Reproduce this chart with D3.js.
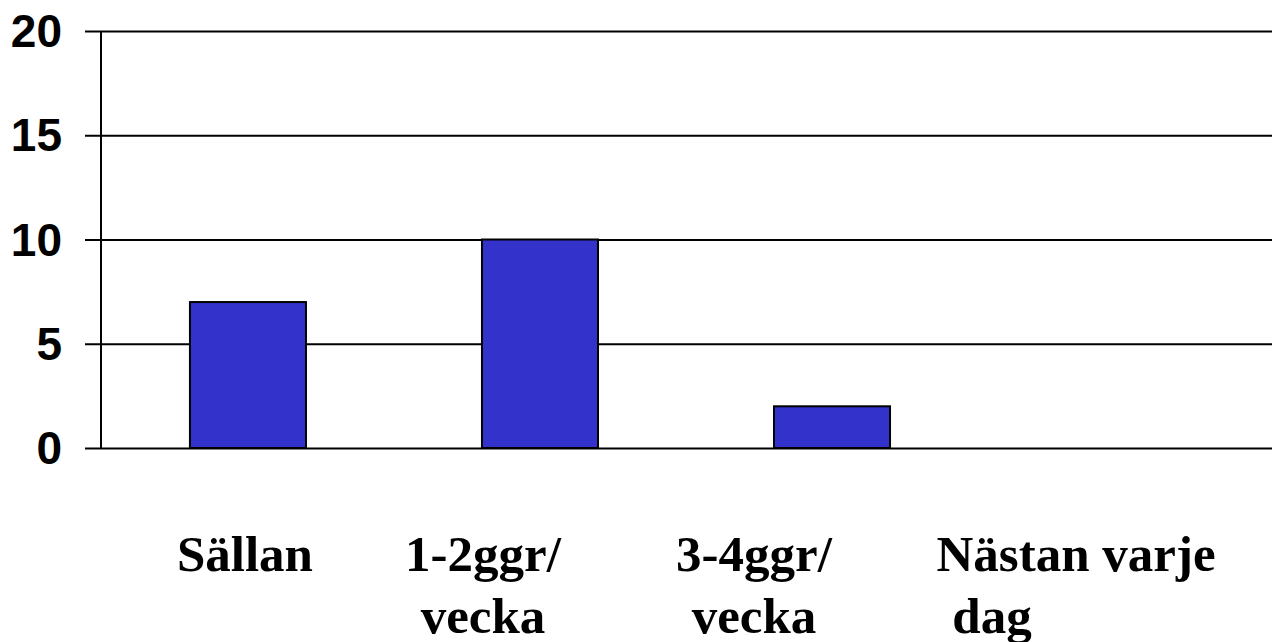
<!DOCTYPE html>
<html>
<head>
<meta charset="utf-8">
<script src="https://cdn.jsdelivr.net/npm/d3@7"></script>
<style>
  body { margin: 0; background: #fff; }
  svg { display: block; }
</style>
</head>
<body>
<div id="chart"></div>
<script>
// data
var categories = ["Sällan", "1-2ggr/ vecka", "3-4ggr/ vecka", "Nästan varje dag"];
var values = [7, 10, 2, 0];
var yTicks = [0, 5, 10, 15, 20];
// category labels as they wrap in the picture
var labelLines = [["Sällan"], ["1-2ggr/", "vecka"], ["3-4ggr/", "vecka"], ["Nästan varje", "dag"]];

var width = 1277, height = 642;
var plotLeft = 100, plotRight = 1272, plotTop = 31, plotBottom = 448;

var svg = d3.select("#chart").append("svg")
    .attr("width", width).attr("height", height);

var x = d3.scaleBand()
    .domain(categories)
    .range([plotLeft, plotRight])
    .paddingInner(0.6027)
    .paddingOuter(0.308);

var y = d3.scaleLinear()
    .domain([0, 20])
    .range([plotBottom, plotTop]);

// gridlines + ticks
var yAxis = d3.axisLeft(y)
    .tickValues(yTicks)
    .tickSize(-(plotRight - plotLeft))
    .tickFormat("");
var g = svg.append("g")
    .attr("transform", "translate(" + plotLeft + ",0)")
    .call(yAxis);
g.select(".domain").remove();
g.selectAll(".tick line")
    .attr("x1", -15)
    .attr("stroke", "#000")
    .attr("stroke-width", 2);

// tick labels
svg.append("g").selectAll("text")
    .data(yTicks)
    .enter().append("text")
    .attr("x", 62)
    .attr("y", function(d) { return y(d); })
    .attr("dy", "0.35em")
    .attr("text-anchor", "end")
    .attr("font-family", "Liberation Sans, Arial, sans-serif")
    .attr("font-weight", "bold")
    .attr("font-size", 46)
    .attr("fill", "#000")
    .text(function(d) { return d; });

// vertical axis line
svg.append("line")
    .attr("x1", plotLeft + 1).attr("x2", plotLeft + 1)
    .attr("y1", y(20)).attr("y2", y(0))
    .attr("stroke", "#000")
    .attr("stroke-width", 2);

// bars
svg.append("g").selectAll("rect")
    .data(values)
    .enter().append("rect")
    .attr("x", function(d, i) { return x(categories[i]); })
    .attr("y", function(d) { return y(d); })
    .attr("width", x.bandwidth())
    .attr("height", function(d) { return y(0) - y(d); })
    .attr("fill", "#3333CC")
    .attr("stroke", "#000")
    .attr("stroke-width", 2)
    .style("display", function(d) { return d > 0 ? null : "none"; });

// category labels (text boxes sit a bit left of the bars)
var labelShift = [-3, -57, -78, -48];
var labels = svg.append("g").selectAll("text")
    .data(labelLines)
    .enter().append("text")
    .attr("font-family", "Liberation Serif, Times New Roman, serif")
    .attr("font-weight", "bold")
    .attr("font-size", 51)
    .attr("fill", "#000")
    .attr("text-anchor", "middle");

labels.each(function(lines, i) {
  var cx = x(categories[i]) + x.bandwidth() / 2 + labelShift[i];
  d3.select(this).selectAll("tspan")
      .data(lines)
      .enter().append("tspan")
      .attr("x", function(d, j) { return (i == 3 && j == 1) ? cx - 84 : cx; })
      .attr("y", function(d, j) { return 571 + j * 62; })
      .text(function(d) { return d; });
});
</script>
</body>
</html>
